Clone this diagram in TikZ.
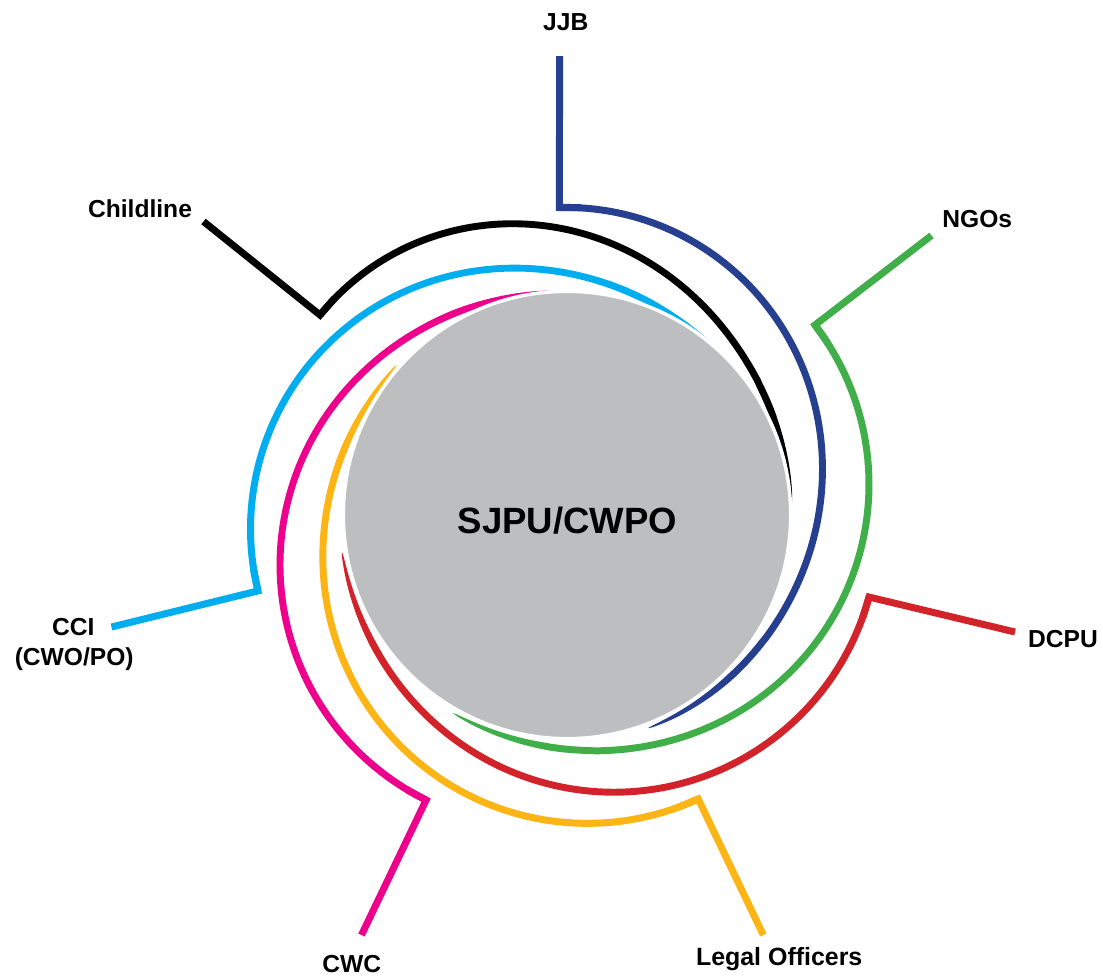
\documentclass[tikz,border=0pt]{standalone}
\usepackage{fontspec}
\setmainfont{Liberation Sans}
\definecolor{cjjb}{RGB}{38,64,143}
\definecolor{cblack}{RGB}{0,0,0}
\definecolor{cgreen}{RGB}{64,174,73}
\definecolor{cred}{RGB}{210,35,42}
\definecolor{cyellow}{RGB}{253,181,21}
\definecolor{cmagenta}{RGB}{236,0,140}
\definecolor{ccyan}{RGB}{0,174,239}
\definecolor{hubgray}{RGB}{188,190,192}
% #1 name, #2 colour, #3 start angle, #4 start radius, #5 sweep, #6 end radius, #7 #8 outer end of leader, #9 decay exponent
\newcommand{\branch}[9]{%
  \coordinate (#1c) at ({567+#4*cos(#3)},{515-#4*sin(#3)});
  \coordinate (#1n) at ({567+#4*cos(#3-4)},{515-#4*sin(#3-4)});
  \coordinate (#1o) at (#7,#8);
  \fill[#2] plot[domain=0:1,samples=160,variable=\t]
    ({567+(#6+(#4-#6)*spf(\t,#9)+spw(\t,#5))*cos(#3-#5*\t)},{515-(#6+(#4-#6)*spf(\t,#9)+spw(\t,#5))*sin(#3-#5*\t)})
    -- plot[domain=1:0,samples=160,variable=\t]
    ({567+(#6+(#4-#6)*spf(\t,#9)-spw(\t,#5))*cos(#3-#5*\t)},{515-(#6+(#4-#6)*spf(\t,#9)-spw(\t,#5))*sin(#3-#5*\t)})
    -- cycle;
  \draw[leader,#2] (#1o) -- (#1c) -- (#1n);
}
\begin{document}
\begin{tikzpicture}[x=0.02cm,y=-0.02cm,
  declare function={spf(\t,\p)=pow(max((1+cos(180*\t))/2,0.001),\p); spw(\t,\s)=3.5*sqrt(max(0,min(1,(1-\t)*\s/25)));},
  leader/.style={line width=0.14cm,line join=miter,line cap=butt},
  lbl/.style={font=\bfseries\fontsize{14}{17}\selectfont,anchor=base,inner sep=0pt},
  hub/.style={circle,fill=hubgray,draw=white,line width=0.07cm,minimum size=8.95cm,inner sep=0pt}]
\useasboundingbox (0,0) rectangle (1103,977);
\fill[white] (0,0) rectangle (1103,977);

\branch{jjb}{cjjb}{91.4}{307.6}{160.6}{228}{559.5}{56}{1.3}
\branch{chl}{cblack}{141.0}{317.8}{138}{225}{203.5}{221.5}{1.2}
\branch{ngo}{cgreen}{37.46}{312.4}{157.4}{228.5}{931.5}{235.5}{1.1}
\branch{dcp}{cred}{-15.2}{313}{155.5}{228}{1015}{632}{1}
\branch{leg}{cyellow}{-65.2}{312.8}{156.2}{227}{763.3}{935}{1}
\branch{cwc}{cmagenta}{-116.3}{318}{150.1}{224.4}{361.5}{935}{1}
\branch{cci}{ccyan}{193.8}{318.2}{146.1}{223.7}{111.5}{627}{1}

\node[hub] (hubc) at (567,515) {};
\node[lbl,font=\bfseries\fontsize{20.8}{24}\selectfont] (sjpu) at (567.5,533) {SJPU/CWPO};

\node[lbl] (jjbl) at (565.8,31) {JJB};
\node[lbl] (chll) at (140,217) {Childline};
\node[lbl] (ngol) at (977.3,227.3) {NGOs};
\node[lbl] (dcpl) at (1063,647) {DCPU};
\node[lbl] (ccil) at (73.3,635) {CCI};
\node[lbl] (ccil2) at (74.2,665) {(CWO/PO)};
\node[lbl] (cwcl) at (351.7,972.7) {CWC};
\node[lbl,font=\bfseries\fontsize{14.2}{17}\selectfont] (legl) at (779.2,965) {Legal Officers};
\end{tikzpicture}
\end{document}
